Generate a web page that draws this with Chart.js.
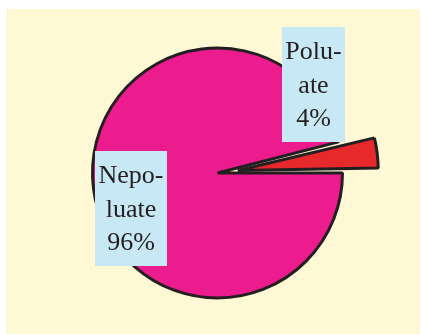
<!DOCTYPE html>
<html>
<head>
<meta charset="utf-8">
<script src="https://cdn.jsdelivr.net/npm/chart.js@4"></script>
<style>
  html, body { margin: 0; padding: 0; background: #fff; }
  #wrap { position: relative; width: 421px; height: 334px; }
  #bg { position: absolute; left: 6px; top: 9px; width: 414px; height: 325px; background: #fef8d5; }
  #pie { position: absolute; left: 0; top: 0; }
</style>
</head>
<body>
<div id="wrap">
  <div id="bg"></div>
  <canvas id="pie" width="421" height="334"></canvas>
</div>
<script>
// podatki
const labels = [['Nepo-', 'luate'], ['Polu-', 'ate']];
const values = [96, 4];
const colors = ['#ec1c8e', '#e8292c'];
// Chart.js premakne izrezek le za del vrednosti offset (~0.44 pri ozkem izrezku)
const offsets = [0, 82];

// modre škatle z napisi
const labelBoxes = {
    id: 'labelBoxes',
    afterDatasetsDraw(chart, args, opts) {
        const ctx = chart.ctx;
        const ds = chart.data.datasets[0];
        opts.boxes.forEach((b, i) => {
            const lines = [...chart.data.labels[i], ds.data[i] + '%'];
            ctx.save();
            ctx.fillStyle = '#c9e8f5';
            ctx.fillRect(b.x, b.y, b.w, b.h);
            ctx.fillStyle = '#231f20';
            ctx.font = '26px "Liberation Serif", serif';
            ctx.textAlign = 'center';
            ctx.textBaseline = 'alphabetic';
            lines.forEach((t, j) => ctx.fillText(t, b.x + b.w / 2, b.y + 32 + j * 33.5));
            ctx.restore();
        });
    }
};

new Chart(document.getElementById('pie'), {
    type: 'pie',
    data: {
        labels: labels,
        datasets: [{
            data: values,
            backgroundColor: colors,
            borderColor: '#231f20',
            borderWidth: 3,
            offset: offsets,
            hoverOffset: 0
        }]
    },
    options: {
        responsive: false,
        animation: false,
        events: [],
        rotation: 90,
        radius: 125,
        layout: { padding: { left: 20, right: 6, top: 20, bottom: 8 } },
        plugins: {
            legend: { display: false },
            tooltip: { enabled: false },
            labelBoxes: {
                boxes: [
                    { x: 95, y: 151, w: 72, h: 115 },
                    { x: 282, y: 27, w: 63, h: 115 }
                ]
            }
        }
    },
    plugins: [labelBoxes]
});
</script>
</body>
</html>
